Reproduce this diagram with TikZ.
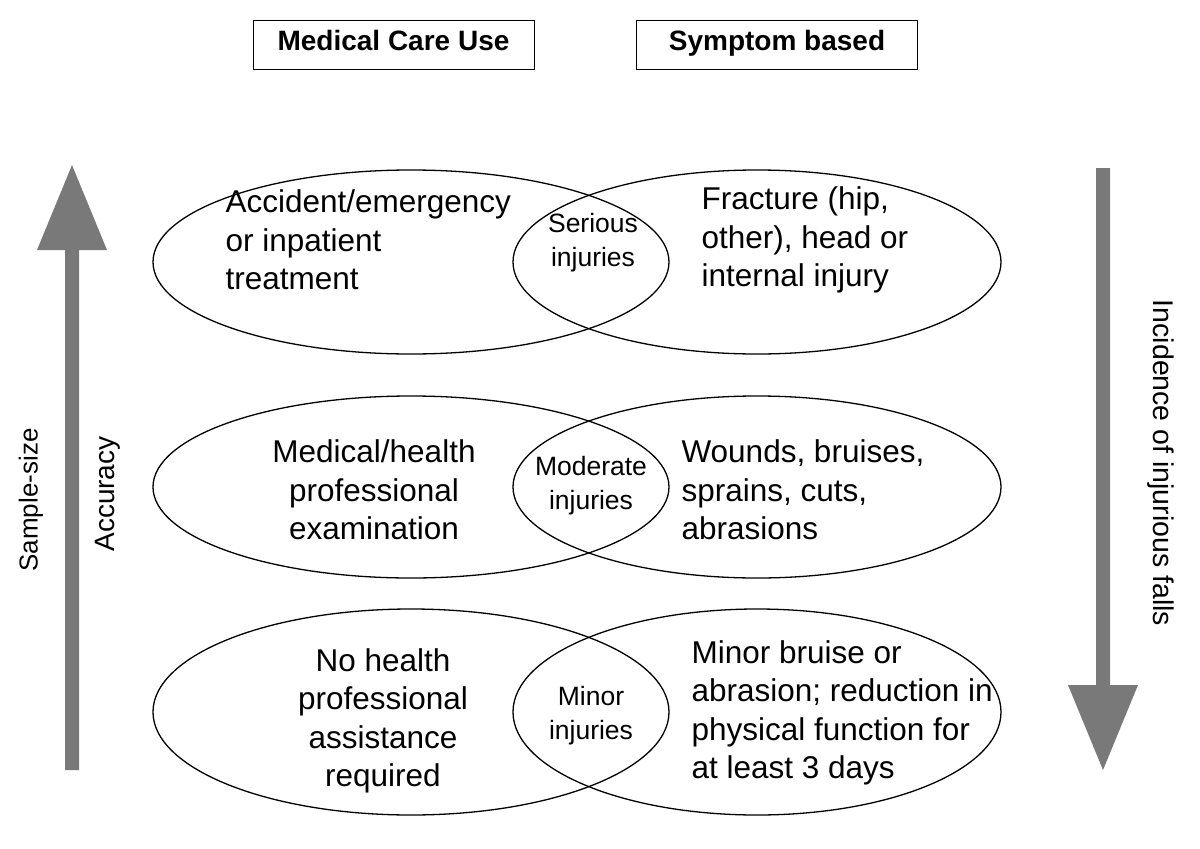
\documentclass[tikz,border=0pt]{standalone}
\usepackage{fontspec}
\setmainfont{Liberation Sans}
\begin{document}
\begin{tikzpicture}[x=1pt,y=-1pt,
 ell/.style={draw,line width=1.3pt},
 big/.style={font=\fontsize{31.5}{38.5}\selectfont},
 sm/.style={font=\fontsize{26.5}{34}\selectfont,align=center},
 hdr/.style={draw,line width=1pt,minimum width=281pt,minimum height=49pt,font=\fontsize{28}{30}\selectfont\bfseries},
 arr/.style={fill=gray!95!black,draw=none}]
\useasboundingbox (0,0) rectangle (1200,849);
\node[hdr] (h1) at (393.5,44.5) {\strut Medical Care Use};
\node[hdr] (h2) at (777,44.5) {\strut Symptom based};
% ellipses
\foreach \y/\r in {262/92,487/91,712/103}{
 \draw[ell] (411,\y) ellipse [x radius=258,y radius=\r];
 \draw[ell] (757,\y) ellipse [x radius=244,y radius=\r];
}
\node[big,align=left,anchor=west] (t1) at (222,240) {Accident/emergency\\or inpatient\\treatment};
\node[sm] (s1) at (593,243) {Serious\\injuries};
\node[big,align=left,anchor=west] (r1) at (698,240) {Fracture (hip,\\other), head or\\internal injury};
\node[big,align=center] (t2) at (374,490) {Medical/health\\professional\\examination};
\node[sm] (s2) at (591,486) {Moderate\\injuries};
\node[big,align=left,anchor=west] (r2) at (678,490) {Wounds, bruises,\\sprains, cuts,\\abrasions};
\node[big,align=center] (t3) at (383,721) {No health\\professional\\assistance\\required};
\node[sm] (s3) at (591,716) {Minor\\injuries};
\node[big,align=left,anchor=west] (r3) at (688,713) {Minor bruise or\\abrasion; reduction in\\physical function for\\at least 3 days};
% arrows
\fill[arr] (65,770) -- (79,770) -- (79,250) -- (107,250) -- (72,165) -- (37,250) -- (65,250) -- cycle;
\fill[arr] (1096,168) -- (1110,168) -- (1110,685) -- (1138,685) -- (1103,770) -- (1068,685) -- (1096,685) -- cycle;
\node[big,rotate=90,font=\fontsize{26}{30}\selectfont] (l1) at (31,500) {Sample-size};
\node[big,rotate=90,font=\fontsize{28}{30}\selectfont] (l2) at (108,494) {Accuracy};
\node[big,rotate=-90,font=\fontsize{28.5}{30}\selectfont] (l3) at (1161,463) {Incidence of injurious falls};
\end{tikzpicture}
\end{document}
